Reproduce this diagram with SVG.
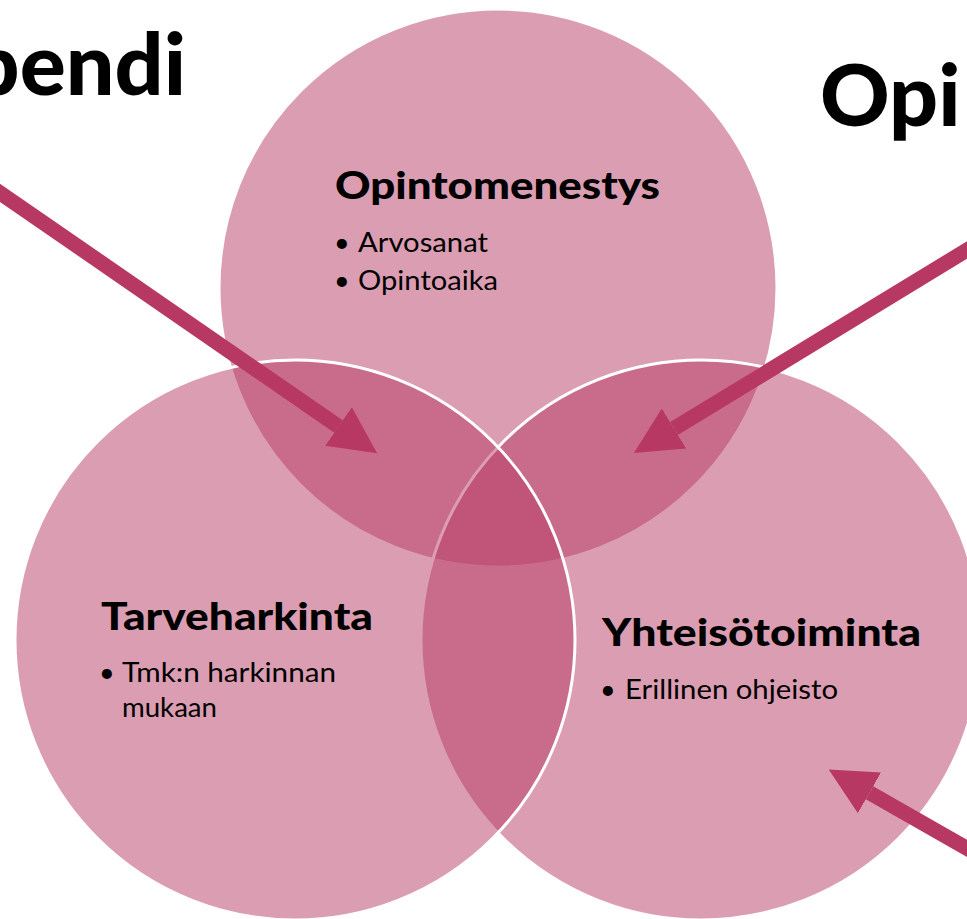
<svg xmlns="http://www.w3.org/2000/svg" width="967" height="919" viewBox="0 0 967 919">
<style>
.c{fill:#B73B65;fill-opacity:0.5;stroke:#FFFFFF;stroke-width:3}
.big{font-family:Lato,"Open Sans","Liberation Sans",sans-serif;font-weight:900;font-size:86px;fill:#000}
.h{font-family:Lato,"Open Sans","Liberation Sans",sans-serif;font-weight:900;font-size:37px;fill:#000}
.b{font-family:Lato,"Open Sans","Liberation Sans",sans-serif;font-size:27px;fill:#000}
.a{stroke:#B83864;stroke-width:15;fill:none}
</style>
<defs>
<marker id="ah" viewBox="0 0 10 10" refX="0" refY="5" markerWidth="3.13" markerHeight="3.13" orient="auto" markerUnits="strokeWidth">
<path d="M0,0 L10,5 L0,10 z" fill="#B83864"/>
</marker>
</defs>
<rect width="967" height="919" fill="#FFFFFF"/>
<text class="big" x="186" y="95" text-anchor="end">pendi</text>
<text class="big" x="820" y="126">Opi</text>
<g id="opintomenestys">
<circle class="c" cx="498" cy="288" r="279"/>
<text class="h" x="335" y="199" textLength="325" lengthAdjust="spacingAndGlyphs">Opintomenestys</text>
<text class="b" y="252"><tspan x="334">•</tspan><tspan x="358" textLength="130" lengthAdjust="spacingAndGlyphs">Arvosanat</tspan></text>
<text class="b" y="290"><tspan x="334">•</tspan><tspan x="358" textLength="140" lengthAdjust="spacingAndGlyphs">Opintoaika</tspan></text>
</g>
<g id="yhteisotoiminta">
<circle class="c" cx="701" cy="640" r="280"/>
<text class="h" x="602" y="646" textLength="319" lengthAdjust="spacingAndGlyphs">Yhteisötoiminta</text>
<text class="b" y="699"><tspan x="600">•</tspan><tspan x="625" textLength="213" lengthAdjust="spacingAndGlyphs">Erillinen ohjeisto</tspan></text>
</g>
<g id="tarveharkinta">
<circle class="c" cx="295" cy="640" r="280"/>
<text class="h" x="101" y="630" textLength="272" lengthAdjust="spacingAndGlyphs">Tarveharkinta</text>
<text class="b" y="682"><tspan x="99">•</tspan><tspan x="122" textLength="214" lengthAdjust="spacingAndGlyphs">Tmk:n harkinnan</tspan></text>
<text class="b" x="122" y="717" textLength="95" lengthAdjust="spacingAndGlyphs">mukaan</text>
</g>
<g id="connectors">
<line class="a" x1="-20" y1="179" x2="338.5" y2="426.5" marker-end="url(#ah)"/>
<line class="a" x1="990" y1="236" x2="674" y2="428.5" marker-end="url(#ah)"/>
<line class="a" x1="990" y1="861.5" x2="869.5" y2="792.8" marker-end="url(#ah)"/>
</g>
</svg>
